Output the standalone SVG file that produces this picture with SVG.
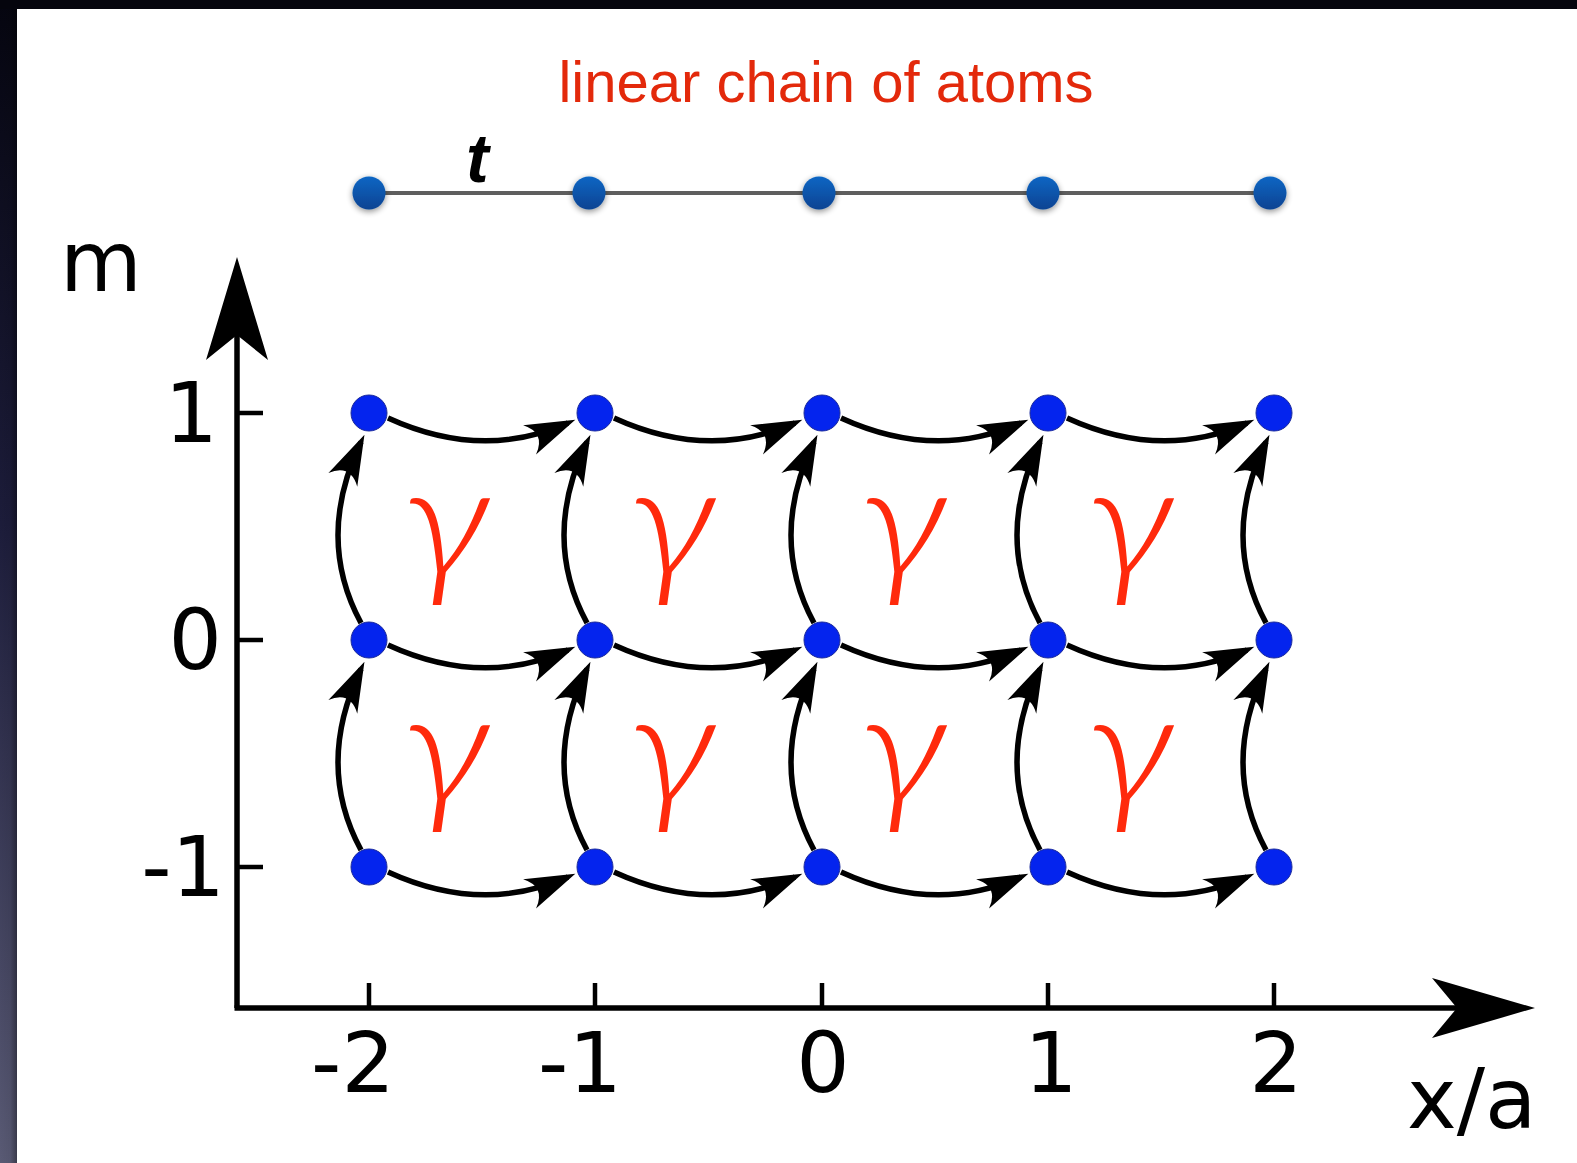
<svg xmlns="http://www.w3.org/2000/svg" width="1577" height="1163" viewBox="0 0 1577 1163">
<style>
.lbl{font-family:"DejaVu Sans","Liberation Sans",sans-serif;font-size:84px;fill:#000}
.gam{font-family:Lato,"Noto Sans",sans-serif;font-style:italic;font-weight:300;font-size:158px;fill:#ff2a0c;text-anchor:middle}
.edge{fill:none;stroke:#000;stroke-width:5.5;marker-end:url(#ah)}
.lat{fill:#0424ee;stroke:#1b2a9c;stroke-width:1}
.chn{fill:url(#chg);filter:url(#sh)}
.axis{stroke:#000;stroke-width:5.5;fill:none}
.tick{stroke:#000;stroke-width:4.5}
</style>
<defs>
<linearGradient id="strip" x1="0" y1="0" x2="0" y2="1">
<stop offset="0" stop-color="#05050f"/>
<stop offset="0.45" stop-color="#1c1c3a"/>
<stop offset="1" stop-color="#595a74"/>
</linearGradient>
<linearGradient id="stripH" x1="0" y1="0" x2="1" y2="0">
<stop offset="0" stop-color="#000" stop-opacity="0"/>
<stop offset="0.6" stop-color="#000" stop-opacity="0.05"/>
<stop offset="1" stop-color="#000" stop-opacity="0.35"/>
</linearGradient>
<linearGradient id="chg" x1="0" y1="0" x2="0" y2="1">
<stop offset="0" stop-color="#0b66c4"/>
<stop offset="1" stop-color="#0a4392"/>
</linearGradient>
<filter id="sh" x="-50%" y="-50%" width="200%" height="200%">
<feGaussianBlur in="SourceAlpha" stdDeviation="3"/>
<feOffset dx="0" dy="2" result="b"/>
<feComponentTransfer><feFuncA type="linear" slope="0.45"/></feComponentTransfer>
<feMerge><feMergeNode/><feMergeNode in="SourceGraphic"/></feMerge>
</filter>
<marker id="ah" markerUnits="userSpaceOnUse" orient="auto" refX="-8" refY="0" markerWidth="1" markerHeight="1" overflow="visible">
<path d="M0,0 L-50,-16 Q-32,0 -50,16 Z" fill="#000"/>
</marker>
</defs>

<rect x="0" y="0" width="1577" height="1163" fill="#fff"/>
<rect x="0" y="0" width="17" height="1163" fill="url(#strip)"/>
<rect x="0" y="0" width="17" height="1163" fill="url(#stripH)"/>
<rect x="0" y="0" width="1577" height="9" fill="#05050d"/>

<text x="826" y="102" font-family="Liberation Sans, Arial, sans-serif" font-size="58" fill="#e3290b" text-anchor="middle">linear chain of atoms</text>

<g id="chain">
<line x1="369" y1="193" x2="1270" y2="193" stroke="#5e5e5e" stroke-width="4"/>
<text x="466" y="182" font-family="Liberation Sans, Arial, sans-serif" font-size="68" font-weight="bold" font-style="italic" fill="#000">t</text>
<g id="atom1"><circle class="chn" cx="369" cy="193" r="16.5"/></g>
<g id="atom2"><circle class="chn" cx="589" cy="193" r="16.5"/></g>
<g id="atom3"><circle class="chn" cx="819" cy="193" r="16.5"/></g>
<g id="atom4"><circle class="chn" cx="1043" cy="193" r="16.5"/></g>
<g id="atom5"><circle class="chn" cx="1270" cy="193" r="16.5"/></g>
</g>

<g id="axes">
<line class="axis" x1="237" y1="1008" x2="237" y2="330"/>
<polygon points="237,257 268,360 237,335 206,360" fill="#000"/>
<line class="axis" x1="234.5" y1="1008" x2="1460" y2="1008"/>
<polygon points="1535,1008 1432,978 1457,1008 1432,1038" fill="#000"/>
<line class="tick" x1="237" y1="413" x2="263" y2="413"/>
<line class="tick" x1="237" y1="640" x2="263" y2="640"/>
<line class="tick" x1="237" y1="867" x2="263" y2="867"/>
<line class="tick" x1="369" y1="983" x2="369" y2="1008"/>
<line class="tick" x1="595" y1="983" x2="595" y2="1008"/>
<line class="tick" x1="822" y1="983" x2="822" y2="1008"/>
<line class="tick" x1="1048" y1="983" x2="1048" y2="1008"/>
<line class="tick" x1="1274" y1="983" x2="1274" y2="1008"/>
<text class="lbl" x="60" y="291">m</text>
<text class="lbl" x="1407" y="1128">x/a</text>
<text class="lbl" x="218" y="442" text-anchor="end">1</text>
<text class="lbl" x="222" y="669" text-anchor="end">0</text>
<text class="lbl" x="225" y="896" text-anchor="end">-1</text>
<text class="lbl" x="353" y="1092" text-anchor="middle">-2</text>
<text class="lbl" x="580" y="1092" text-anchor="middle">-1</text>
<text class="lbl" x="823" y="1092" text-anchor="middle">0</text>
<text class="lbl" x="1051" y="1092" text-anchor="middle">1</text>
<text class="lbl" x="1276" y="1092" text-anchor="middle">2</text>
</g>

<g id="connectors">
<path class="edge" d="M388,418 Q482,461 568,423"/>
<path class="edge" d="M614,418 Q708,461 795,423"/>
<path class="edge" d="M841,418 Q935,461 1021,423"/>
<path class="edge" d="M1067,418 Q1161,461 1247,423"/>
<path class="edge" d="M388,645 Q482,688 568,650"/>
<path class="edge" d="M614,645 Q708,688 795,650"/>
<path class="edge" d="M841,645 Q935,688 1021,650"/>
<path class="edge" d="M1067,645 Q1161,688 1247,650"/>
<path class="edge" d="M388,872 Q482,915 568,877"/>
<path class="edge" d="M614,872 Q708,915 795,877"/>
<path class="edge" d="M841,872 Q935,915 1021,877"/>
<path class="edge" d="M1067,872 Q1161,915 1247,877"/>
<path class="edge" d="M361,623 Q315,538 361,442"/>
<path class="edge" d="M587,623 Q541,538 587,442"/>
<path class="edge" d="M814,623 Q768,538 814,442"/>
<path class="edge" d="M1040,623 Q994,538 1040,442"/>
<path class="edge" d="M1266,623 Q1220,538 1266,442"/>
<path class="edge" d="M361,850 Q315,765 361,669"/>
<path class="edge" d="M587,850 Q541,765 587,669"/>
<path class="edge" d="M814,850 Q768,765 814,669"/>
<path class="edge" d="M1040,850 Q994,765 1040,669"/>
<path class="edge" d="M1266,850 Q1220,765 1266,669"/>
</g>

<g id="fluxes">
<text class="gam" transform="translate(446,577) scale(1.15,1)">γ</text>
<text class="gam" transform="translate(672,577) scale(1.15,1)">γ</text>
<text class="gam" transform="translate(903,577) scale(1.15,1)">γ</text>
<text class="gam" transform="translate(1130,577) scale(1.15,1)">γ</text>
<text class="gam" transform="translate(446,804) scale(1.15,1)">γ</text>
<text class="gam" transform="translate(672,804) scale(1.15,1)">γ</text>
<text class="gam" transform="translate(903,804) scale(1.15,1)">γ</text>
<text class="gam" transform="translate(1130,804) scale(1.15,1)">γ</text>
</g>

<g id="site_1_m2"><circle class="lat" cx="369" cy="413" r="18"/></g>
<g id="site_1_m1"><circle class="lat" cx="595" cy="413" r="18"/></g>
<g id="site_1_0"><circle class="lat" cx="822" cy="413" r="18"/></g>
<g id="site_1_p1"><circle class="lat" cx="1048" cy="413" r="18"/></g>
<g id="site_1_p2"><circle class="lat" cx="1274" cy="413" r="18"/></g>
<g id="site_0_m2"><circle class="lat" cx="369" cy="640" r="18"/></g>
<g id="site_0_m1"><circle class="lat" cx="595" cy="640" r="18"/></g>
<g id="site_0_0"><circle class="lat" cx="822" cy="640" r="18"/></g>
<g id="site_0_p1"><circle class="lat" cx="1048" cy="640" r="18"/></g>
<g id="site_0_p2"><circle class="lat" cx="1274" cy="640" r="18"/></g>
<g id="site_n1_m2"><circle class="lat" cx="369" cy="867" r="18"/></g>
<g id="site_n1_m1"><circle class="lat" cx="595" cy="867" r="18"/></g>
<g id="site_n1_0"><circle class="lat" cx="822" cy="867" r="18"/></g>
<g id="site_n1_p1"><circle class="lat" cx="1048" cy="867" r="18"/></g>
<g id="site_n1_p2"><circle class="lat" cx="1274" cy="867" r="18"/></g>
</svg>
